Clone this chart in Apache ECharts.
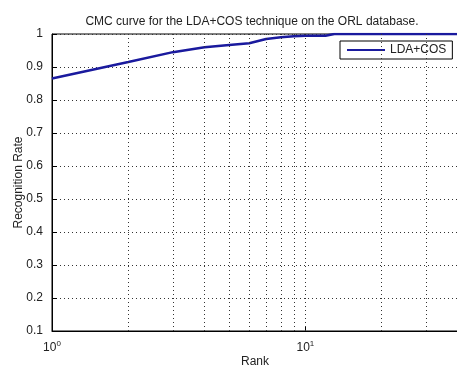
<!DOCTYPE html>
<html>
<head>
<meta charset="utf-8">
<script src="https://cdn.jsdelivr.net/npm/echarts@6/dist/echarts.min.js"></script>
<style>
  html, body { margin: 0; padding: 0; background: #fff; }
  #chart { width: 457px; height: 367px; }
</style>
</head>
<body>
<div id="chart"></div>
<script>
// Cumulative match characteristic for LDA+COS on ORL
const ranks = [1, 2, 3, 4, 5, 6, 7, 8, 9, 10, 11, 12, 13, 14, 15, 16, 17, 18, 19, 20,
               21, 22, 23, 24, 25, 26, 27, 28, 29, 30, 31, 32, 33, 34, 35, 36, 37, 38, 39, 40];
const recognitionRate = [0.865, 0.915, 0.945, 0.96, 0.967, 0.972, 0.985, 0.99, 0.993, 0.995,
                         0.995, 0.995, 1, 1, 1, 1, 1, 1, 1, 1,
                         1, 1, 1, 1, 1, 1, 1, 1, 1, 1,
                         1, 1, 1, 1, 1, 1, 1, 1, 1, 1];
// vertical grid positions on the log rank axis
const rankGrid = [2, 3, 4, 5, 6, 7, 8, 9, 10, 20, 30];
const yTicks = { min: 0.1, max: 1, step: 0.1 };

const FONT = 'Liberation Sans, Arial, sans-serif';
const TXT = '#222';

const chart = echarts.init(document.getElementById('chart'), null, { renderer: 'canvas' });

chart.setOption({
  animation: false,
  backgroundColor: '#fff',
  title: {
    text: 'CMC curve for the LDA+COS technique on the ORL database.',
    left: 252, top: 16, textAlign: 'center', padding: 0,
    textStyle: { fontFamily: FONT, fontSize: 12, fontWeight: 'normal', color: TXT }
  },
  grid: {
    left: 52, top: 34, width: 406, height: 297,
    outerBoundsMode: 'none',
    show: true, borderColor: '#000', borderWidth: 1, backgroundColor: 'transparent'
  },
  legend: {
    left: 340, top: 41,
    padding: [3, 6, 3, 7],
    itemGap: 0, itemWidth: 38, itemHeight: 2,
    icon: 'rect',
    backgroundColor: '#fff', borderColor: '#000', borderWidth: 1, borderRadius: 0,
    textStyle: { fontFamily: FONT, fontSize: 12, color: TXT },
    data: ['LDA+COS']
  },
  xAxis: {
    type: 'log', logBase: 10, min: 1, max: 40,
    name: 'Rank', nameLocation: 'middle', nameGap: 25, nameMoveOverlap: false,
    nameTextStyle: { fontFamily: FONT, fontSize: 12, color: TXT },
    axisLine: { show: true, lineStyle: { color: '#000', width: 1 } },
    axisTick: { show: true, inside: true, length: 5, lineStyle: { color: '#000' } },
    splitLine: { show: false },
    axisLabel: {
      margin: 9,
      showMaxLabel: false,
      formatter: function (v) {
        const e = Math.log10(v);
        if (Math.abs(e - Math.round(e)) > 1e-6) return '';
        return '{b|10}{e|' + Math.round(e) + '}';
      },
      rich: {
        b: { fontFamily: FONT, fontSize: 12, color: TXT },
        e: { fontFamily: FONT, fontSize: 8, color: TXT, padding: [0, 0, 8, 0] }
      }
    }
  },
  yAxis: {
    type: 'value', min: yTicks.min, max: yTicks.max, interval: yTicks.step,
    name: 'Recognition Rate', nameLocation: 'middle', nameGap: 27, nameRotate: 90,
    nameMoveOverlap: false,
    nameTextStyle: { fontFamily: FONT, fontSize: 12, color: TXT },
    axisLine: { show: true, lineStyle: { color: '#000', width: 1 } },
    axisTick: { show: true, inside: true, length: 5, lineStyle: { color: '#000' } },
    axisLabel: {
      fontFamily: FONT, fontSize: 12, color: TXT, margin: 9,
      formatter: function (v) { return String(Math.round(v * 10) / 10); }
    },
    splitLine: { show: true, lineStyle: { color: '#333', width: 1, type: [1, 3] } }
  },
  series: [{
    name: 'LDA+COS',
    type: 'line',
    data: ranks.map((r, i) => [r, recognitionRate[i]]),
    showSymbol: false, symbol: 'none',
    lineStyle: { color: '#1a1a9e', width: 2.5 },
    itemStyle: { color: '#1a1a9e' },
    clip: true,
    z: 3,
    markLine: {
      silent: true, symbol: 'none', animation: false,
      label: { show: false },
      lineStyle: { color: '#333', width: 1, type: [1, 3] },
      data: rankGrid.map(r => ({ xAxis: r }))
    }
  }]
});
</script>
</body>
</html>
